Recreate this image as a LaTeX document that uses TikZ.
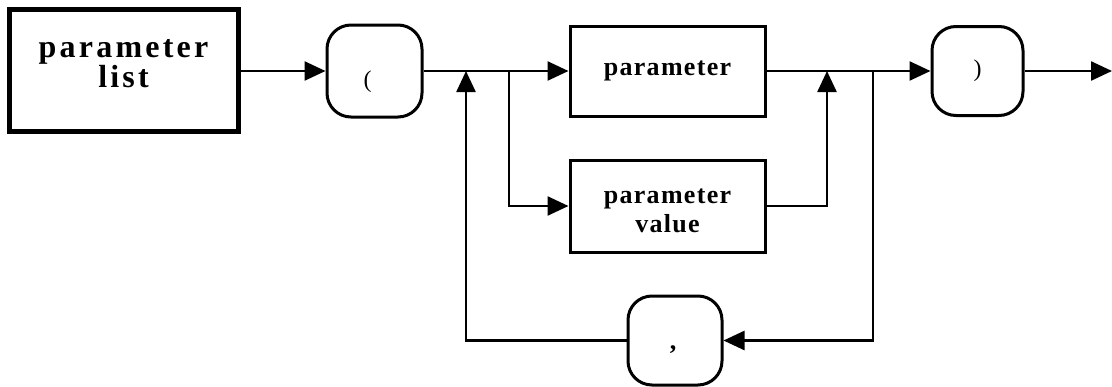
\documentclass[tikz,border=0pt]{standalone}
\usepackage{fontspec}
\setmainfont{Liberation Serif}
\usetikzlibrary{arrows.meta}
\newfontfamily\bigfont[LetterSpace=10]{Liberation Serif Bold}
\newfontfamily\smallfont[LetterSpace=5]{Liberation Serif Bold}
\begin{document}
\begin{tikzpicture}[x=1pt,y=-1pt,
  conn/.style={line width=2.5pt,-{Triangle[length=21pt,width=19pt]}},
  sqbox/.style={draw,line width=3pt,inner sep=0pt,align=center,font=\smallfont\fontsize{26}{29}\selectfont},
  rbox/.style={draw,line width=3pt,inner sep=0pt,rounded corners=24pt},
  sym/.style={font=\fontsize{24}{28}\selectfont}]
\useasboundingbox (0,0) rectangle (1112,386);
\node[draw,line width=5pt,minimum width=229pt,minimum height=122pt,inner sep=0pt,
  label={[align=center,font=\bigfont\fontsize{32}{28}\selectfont,yshift=6pt]center:parameter\\list}] (plist) at (123.5,70) {};
\node[rbox,minimum width=95pt,minimum height=92pt,label={[sym,xshift=-7pt,yshift=-11pt]center:(}] (lp) at (374.5,71) {};
\node[sqbox,minimum width=195pt,minimum height=90pt] (par) at (667.5,71) {parameter};
\node[sqbox,minimum width=195pt,minimum height=92pt,
  label={[align=center,font=\smallfont\fontsize{26}{29}\selectfont,yshift=-5pt]center:parameter\\value}] (val) at (667.5,206) {};
\node[rbox,minimum width=91pt,minimum height=89pt,label={[sym]center:)}] (rp) at (977.5,71) {};
\node[rbox,minimum width=94pt,minimum height=89pt,label={[sym,font=\bfseries\fontsize{26}{28}\selectfont,xshift=-2pt,yshift=-9pt]center:,}] (cm) at (675,340.5) {};
\coordinate (j1) at (466,71);
\coordinate (j2) at (509,71);
\coordinate (j3) at (827,71);
\coordinate (j4) at (873,71);
\coordinate (end) at (1112,71);
\draw[conn] (plist.east |- lp.west) -- (lp.west);
\draw[conn] (lp.east) -- (par.west);
\draw[conn] (j2) |- (val.west);
\draw[conn] (val.east) -| (j3);
\draw[conn] (par.east) -- (rp.west);
\draw[conn] (rp.east) -- (end);
\draw[conn] (j4) |- (cm.east);
\draw[conn] (cm.west) -| (j1);
\end{tikzpicture}
\end{document}
